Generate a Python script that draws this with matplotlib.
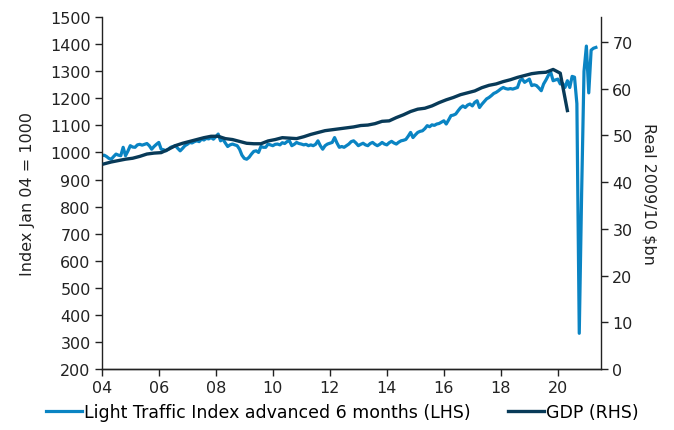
import numpy as np
import matplotlib
matplotlib.use("Agg")
import matplotlib.pyplot as plt

# Light traffic index (monthly, Jan 2004 = month 0), advanced 6 months, LHS
traffic = [
    988, 990, 985, 978, 975, 985, 994, 990, 988, 1019, 988, 1005,
    1025, 1020, 1019, 1028, 1030, 1027, 1030, 1033, 1025, 1012, 1022, 1030,
    1037, 1012, 1010, 1006, 1012, 1019, 1022, 1025, 1015, 1006, 1015, 1025,
    1030, 1037, 1035, 1040, 1043, 1040, 1049, 1046, 1052, 1050, 1055, 1049,
    1058, 1068, 1043, 1049, 1035, 1022, 1028, 1031, 1028, 1025, 1012, 990,
    978, 975, 982, 994, 1004, 1006, 1000, 1022, 1019, 1019, 1031, 1028,
    1025, 1030, 1031, 1028, 1036, 1033, 1040, 1043, 1025, 1030, 1037, 1033,
    1031, 1028, 1030, 1025, 1028, 1025, 1030, 1043, 1025, 1012, 1025, 1031,
    1034, 1037, 1055, 1035, 1019, 1022, 1019, 1025, 1031, 1040, 1043, 1035,
    1025, 1030, 1034, 1028, 1025, 1033, 1037, 1030, 1025, 1030, 1037, 1031,
    1028, 1036, 1041, 1035, 1031, 1038, 1043, 1045, 1048, 1060, 1074, 1055,
    1065, 1074, 1078, 1080, 1088, 1099, 1095, 1102, 1100, 1105, 1107, 1112,
    1117, 1105, 1120, 1136, 1138, 1142, 1154, 1165, 1172, 1166, 1175, 1179,
    1172, 1185, 1191, 1166, 1178, 1188, 1198, 1203, 1210, 1218, 1222, 1228,
    1235, 1240, 1236, 1234, 1236, 1234, 1237, 1240, 1265, 1271, 1259, 1265,
    1271, 1247, 1250, 1247, 1238, 1228, 1253, 1268, 1285, 1296, 1265, 1268,
    1271, 1253, 1255, 1240, 1265, 1240, 1281, 1278, 1180, 332, 850, 1300,
    1393, 1220, 1378, 1385, 1388,
]

# Real GDP, quarterly from Q1 2004 (plotted mid-quarter), RHS
gdp = [
    43.9, 44.3, 44.6, 44.9, 45.1, 45.5, 46.0, 46.2, 46.3, 47.0, 47.8, 48.3,
    48.7, 49.1, 49.5, 49.8, 49.8, 49.3, 49.1, 48.7, 48.3, 48.2, 48.2, 48.8,
    49.1, 49.5, 49.4, 49.3, 49.7, 50.2, 50.6, 51.0, 51.2, 51.4, 51.6, 51.8,
    52.1, 52.2, 52.5, 53.0, 53.1, 53.8, 54.4, 55.1, 55.6, 55.8, 56.3, 57.0,
    57.6, 58.1, 58.7, 59.1, 59.5, 60.2, 60.7, 61.0, 61.5, 61.9, 62.4, 62.8,
    63.2, 63.4, 63.5, 64.1, 63.3, 55.3,
]

year_ticks = list(range(2004, 2021, 2))
year_labels = ["04", "06", "08", "10", "12", "14", "16", "18", "20"]
left_ticks = list(range(200, 1501, 100))
right_ticks = list(range(0, 71, 10))

light_blue = "#0A84C3"
dark_blue = "#083A58"
ink = "#222222"

plt.rcParams["font.family"] = ["DejaVu Sans"]
plt.rcParams["font.size"] = 11.5

t_traffic = 2004 + np.arange(len(traffic)) / 12
t_gdp = 2004 + 1 / 12 + np.arange(len(gdp)) / 4

fig = plt.figure(figsize=(6.74, 4.31), dpi=100)
ax = fig.add_axes([0.151, 0.1415, 0.741, 0.8165])
ax2 = ax.twinx()

l1, = ax.plot(t_traffic, traffic, color=light_blue, lw=2.3,
              label="Light Traffic Index advanced 6 months (LHS)")
l2, = ax2.plot(t_gdp, gdp, color=dark_blue, lw=2.4, label="GDP (RHS)")

ax.set_xlim(2004, 2021.52)
ax.set_ylim(200, 1500)
ax2.set_ylim(0, 75.3)
ax.set_xticks(year_ticks)
ax.set_xticklabels(year_labels)
ax.set_yticks(left_ticks)
ax2.set_yticks(right_ticks)

for a in (ax, ax2):
    a.spines["top"].set_visible(False)
    for s in a.spines.values():
        s.set_color(ink)
        s.set_linewidth(1.0)
    a.tick_params(colors=ink, length=5, width=1.0, labelcolor=ink, pad=3)
ax2.spines["left"].set_visible(False)
ax.spines["right"].set_visible(False)

ax.set_ylabel("Index Jan 04 = 1000", color=ink, labelpad=11)
ax2.set_ylabel("Real 2009/10 \\$bn", color=ink, rotation=270, labelpad=17)

fig.legend(handles=[l1, l2], loc="lower center", bbox_to_anchor=(0.508, -0.008),
           ncol=2, frameon=False, fontsize=12.5, handlelength=2.05,
           handletextpad=0.1, columnspacing=2.2, borderaxespad=0.3)

fig.savefig("out.png", dpi=100)
